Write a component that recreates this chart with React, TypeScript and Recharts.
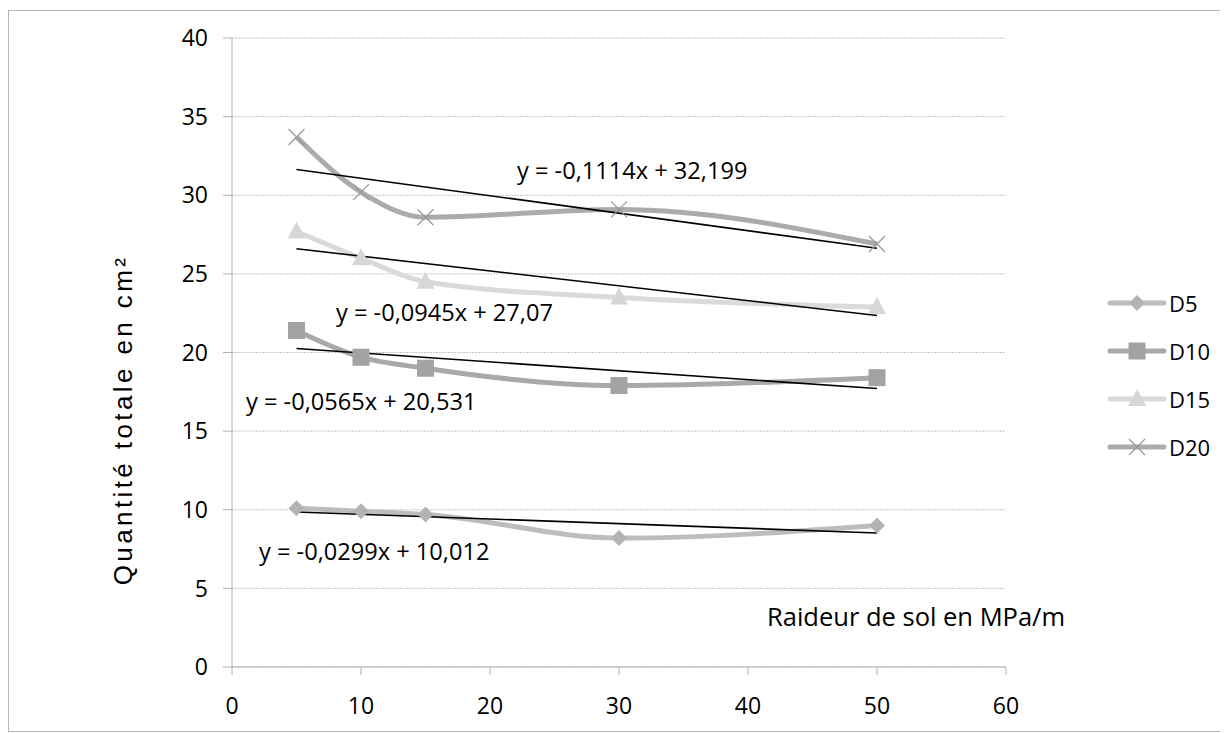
import { ComposedChart, Line, XAxis, YAxis, CartesianGrid } from "recharts";

// Raideur de sol (MPa/m)
const raideur = [5, 10, 15, 30, 50];

// Quantité totale en cm² par diamètre
const d5 = [10.1, 9.9, 9.7, 8.2, 9.0];
const d10 = [21.4, 19.7, 19.0, 17.9, 18.4];
const d15 = [27.7, 26.0, 24.5, 23.5, 22.9];
const d20 = [33.7, 30.2, 28.6, 29.1, 26.9];

// courbes de tendance (extrémités)
const trendX = [5, 50];
const trendD5 = [9.86, 8.52];
const trendD10 = [20.25, 17.71];
const trendD15 = [26.6, 22.35];
const trendD20 = [31.64, 26.63];

const equations = [
  { text: "y = -0,1114x + 32,199", left: 508, top: 144 },
  { text: "y = -0,0945x + 27,07", left: 327, top: 286 },
  { text: "y = -0,0565x + 20,531", left: 237, top: 375 },
  { text: "y = -0,0299x + 10,012", left: 250, top: 525 },
];

const xTicks = [0, 10, 20, 30, 40, 50, 60];
const yTicks = [0, 5, 10, 15, 20, 25, 30, 35, 40];

const FONT = "'Open Sans', sans-serif";

const toPoints = (ys: number[]) => raideur.map((x, i) => ({ x, y: ys[i] }));
const toTrend = (ys: number[]) => trendX.map((x, i) => ({ x, y: ys[i] }));

type Shape = "diamond" | "square" | "triangle" | "cross";

function Marker({ shape, cx, cy, fill }: { shape: Shape; cx: number; cy: number; fill: string }) {
  if (shape === "diamond") {
    const r = 8;
    return <path d={`M${cx},${cy - r}L${cx + r},${cy}L${cx},${cy + r}L${cx - r},${cy}Z`} fill={fill} />;
  }
  if (shape === "square") {
    const r = 8.5;
    return <rect x={cx - r} y={cy - r} width={r * 2} height={r * 2} fill={fill} />;
  }
  if (shape === "triangle") {
    return <path d={`M${cx},${cy - 10}L${cx + 9},${cy + 7}L${cx - 9},${cy + 7}Z`} fill={fill} />;
  }
  const r = 8;
  return (
    <g stroke="#9a9a9a" strokeWidth={1.3}>
      <line x1={cx - r} y1={cy - r} x2={cx + r} y2={cy + r} />
      <line x1={cx - r} y1={cy + r} x2={cx + r} y2={cy - r} />
    </g>
  );
}

const series = [
  { name: "D5", data: d5, trend: trendD5, color: "#bdbdbd", marker: "#b3b3b3", shape: "diamond" as Shape },
  { name: "D10", data: d10, trend: trendD10, color: "#a9a9a9", marker: "#a3a3a3", shape: "square" as Shape },
  { name: "D15", data: d15, trend: trendD15, color: "#dadada", marker: "#d6d6d6", shape: "triangle" as Shape },
  { name: "D20", data: d20, trend: trendD20, color: "#ababab", marker: "#9a9a9a", shape: "cross" as Shape },
];

function LegendBox() {
  return (
    <div style={{ position: "absolute", left: 1097, top: 268, fontFamily: FONT, fontSize: 22, color: "#000" }}>
      {series.map((s) => (
        <div key={s.name} style={{ display: "flex", alignItems: "center", height: 48 }}>
          <svg width={62} height={24}>
            <line x1={4} y1={12} x2={58} y2={12} stroke={s.color} strokeWidth={5} strokeLinecap="round" />
            <Marker shape={s.shape} cx={31} cy={12} fill={s.marker} />
          </svg>
          <span style={{ marginLeft: 1 }}>{s.name}</span>
        </div>
      ))}
    </div>
  );
}

export default function App() {
  return (
    <div
      style={{
        position: "relative",
        width: 1216,
        height: 720,
        marginTop: 2,
        border: "1px solid #b5b5b5",
        background: "#fff",
      }}
    >
      <ComposedChart width={1216} height={720} margin={{ top: 27, right: 219, bottom: 24, left: 163 }}>
        <CartesianGrid horizontal vertical={false} stroke="#c4c4c4" strokeDasharray="2 1" />
        <XAxis
          dataKey="x"
          type="number"
          domain={[0, 60]}
          ticks={xTicks}
          stroke="#b0b0b0"
          tickSize={8}
          tickMargin={23}
          height={40}
          tick={{ fill: "#000", fontSize: 23, fontFamily: FONT }}
        />
        <YAxis
          type="number"
          domain={[0, 40]}
          ticks={yTicks}
          width={60}
          stroke="#b0b0b0"
          tickSize={9}
          tickMargin={15}
          tick={{ fill: "#000", fontSize: 23, fontFamily: FONT }}
        />
        {series.map((s) => (
          <Line
            key={s.name}
            name={s.name}
            data={toPoints(s.data)}
            dataKey="y"
            type="monotone"
            stroke={s.color}
            strokeWidth={5}
            isAnimationActive={false}
            dot={(p: any) => <Marker key={`${s.name}-${p.index}`} shape={s.shape} cx={p.cx} cy={p.cy} fill={s.marker} />}
            activeDot={false}
          />
        ))}
        {series.map((s) => (
          <Line
            key={`trend-${s.name}`}
            data={toTrend(s.trend)}
            dataKey="y"
            type="linear"
            stroke="#000"
            strokeWidth={1.6}
            dot={false}
            activeDot={false}
            legendType="none"
            isAnimationActive={false}
          />
        ))}
      </ComposedChart>

      <LegendBox />

      {equations.map((e) => (
        <div
          key={e.text}
          style={{
            position: "absolute",
            left: e.left,
            top: e.top,
            fontFamily: FONT,
            fontSize: 23.6,
            lineHeight: "30px",
            whiteSpace: "nowrap",
          }}
        >
          {e.text}
        </div>
      ))}

      <div
        style={{
          position: "absolute",
          left: 758,
          top: 590,
          fontFamily: FONT,
          fontSize: 25.5,
          lineHeight: "30px",
          whiteSpace: "nowrap",
        }}
      >
        Raideur de sol en MPa/m
      </div>

      <div
        style={{
          position: "absolute",
          left: 114,
          top: 409,
          transform: "translate(-50%, -50%) rotate(-90deg)",
          fontFamily: "'Liberation Sans', Arial, sans-serif",
          fontSize: 26,
          letterSpacing: 3.4,
          lineHeight: "30px",
          whiteSpace: "nowrap",
        }}
      >
        Quantité totale en cm²
      </div>
    </div>
  );
}
